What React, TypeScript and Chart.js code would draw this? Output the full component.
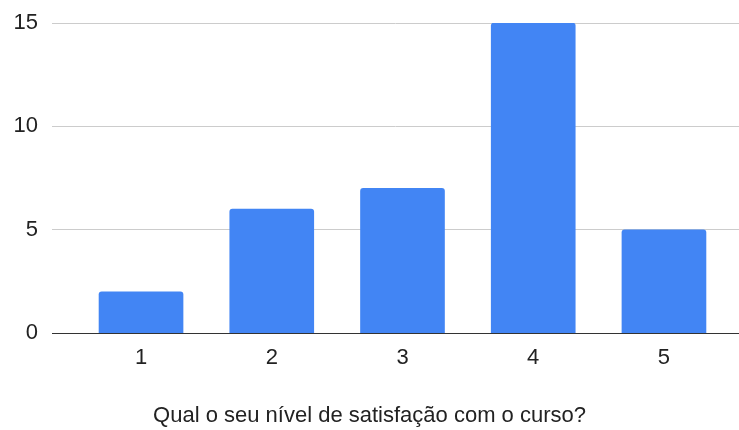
import React, { useEffect, useRef } from "react";
import { Chart, registerables } from "chart.js";

Chart.register(...registerables);

const categories: number[] = [1, 2, 3, 4, 5];
const values: number[] = [2, 6, 7, 15, 5];
const yTicks: number[] = [0, 5, 10, 15];
const xTitle = "Qual o seu nível de satisfação com o curso?";

const FONT = "'Liberation Sans', Arial, sans-serif";

export default function App() {
  const ref = useRef<HTMLCanvasElement | null>(null);

  useEffect(() => {
    document.body.style.margin = "0";
    const canvas = ref.current;
    if (!canvas) return;
    const chart = new Chart(canvas, {
      type: "bar",
      data: {
        datasets: [
          {
            data: categories.map((c, i) => ({ x: c, y: values[i] })),
            backgroundColor: "#4285F4",
            borderWidth: 0,
            borderRadius: { topLeft: 3, topRight: 3, bottomLeft: 0, bottomRight: 0 },
            borderSkipped: "bottom",
            barThickness: 84,
          },
        ],
      },
      options: {
        animation: false,
        responsive: false,
        events: [],
        layout: { padding: { top: 23, left: 0, right: 0, bottom: 0 } },
        plugins: {
          legend: { display: false },
          tooltip: { enabled: false },
          title: {
            display: true,
            position: "bottom",
            text: xTitle,
            color: "#222",
            font: { family: FONT, size: 22, weight: "normal" },
            padding: { top: 19, bottom: 1 },
          },
        },
        scales: {
          x: {
            type: "linear",
            offset: false,
            min: 0.319,
            max: 5.574,
            afterBuildTicks: (scale: any) => {
              scale.ticks = categories.map((v) => ({ value: v }));
            },
            grid: { display: false, drawTicks: false, offset: false },
            border: { display: true, color: "#333", width: 1 },
            ticks: {
              color: "#222",
              padding: 12,
              font: { family: FONT, size: 22 },
              callback: (v: any) => String(v),
              maxRotation: 0,
            },
          },
          y: {
            min: 0,
            max: 15,
            afterBuildTicks: (scale: any) => {
              scale.ticks = yTicks.map((v) => ({ value: v }));
            },
            afterFit: (scale: any) => {
              scale.width = 52;
              scale.paddingTop = 0;
              scale.paddingBottom = 0;
            },
            grid: {
              drawTicks: false,
              color: (ctx: any) => (ctx.tick && ctx.tick.value === 0 ? "#333" : "#cccccc"),
              lineWidth: 1,
            },
            border: { display: false },
            ticks: {
              color: "#222",
              padding: 14,
              font: { family: FONT, size: 22 },
            },
          },
        },
      },
    });
    return () => chart.destroy();
  }, []);

  return <canvas ref={ref} width={739} height={430} style={{ display: "block" }} />;
}
